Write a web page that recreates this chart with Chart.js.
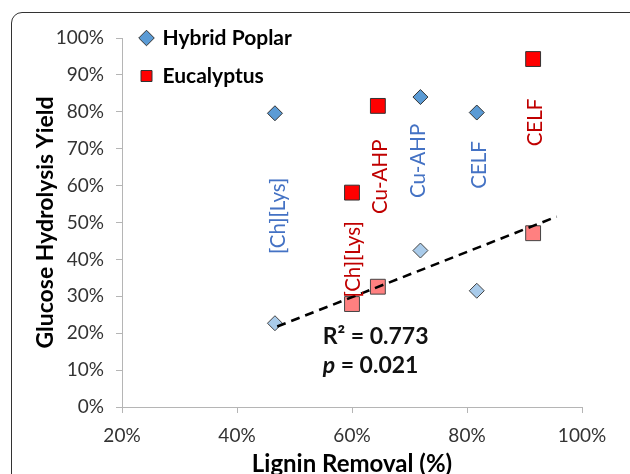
<!DOCTYPE html>
<html>
<head>
<meta charset="utf-8">
<script src="https://cdn.jsdelivr.net/npm/chart.js@4"></script>
<style>
  html, body { margin: 0; padding: 0; background: #ffffff; }
  #wrap { position: relative; width: 630px; height: 474px; overflow: hidden; background: #fff; }
  #frame { position: absolute; left: 11px; top: 12px; width: 660px; height: 520px; border: 1.3px solid #333; border-radius: 11px; box-sizing: border-box; }
  canvas { position: absolute; left: 0; top: 0; }
</style>
</head>
<body>
<div id="wrap">
  <div id="frame"></div>
  <canvas id="c" width="630" height="474"></canvas>
</div>
<script>
// ---- data (values in %) ----
const poplarX = [46.6, 71.9, 81.7];
const poplarY = [79.6, 84.0, 79.8];
const poplarLowY = [22.7, 42.4, 31.5];
const eucX = [60.0, 64.5, 91.5];
const eucY = [58.1, 81.6, 94.3];
const eucLowY = [27.9, 32.6, 47.1];
const trendX = [47.0, 95.6];
const trendY = [21.8, 51.6];
const xTickLabels = ['20%', '40%', '60%', '80%', '100%'];
const yTickLabels = ['0%', '10%', '20%', '30%', '40%', '50%', '60%', '70%', '80%', '90%', '100%'];
const seriesNames = ['Hybrid Poplar', 'Eucalyptus'];
// pretreatment labels (text, x%, y%, series)
const labelText = ['[Ch][Lys]', '[Ch][Lys]', 'Cu-AHP', 'Cu-AHP', 'CELF', 'CELF'];
const labelX = [47.2, 60.3, 65.0, 71.6, 82.1, 91.9];
const labelY = [51.8, 40.0, 62.4, 66.7, 65.6, 77.1];
const labelSeries = [0, 1, 1, 0, 0, 1];
const statLines = ['R\u00B2 = 0.773', 'p = 0.021'];
const statX = [54.9, 54.9];
const statY = [19.2, 11.1];

const FONT = 'Lato, "Open Sans", sans-serif';
const BLUE = '#5B9BD5', LIGHTBLUE = '#A9CBEA', RED = '#FF0000', PINK = '#FF8080';
const TXT_BLUE = '#4472C4', TXT_RED = '#C00000';

function pts(xs, ys) { return xs.map((x, i) => ({ x: x, y: ys[i] })); }

const labelPlugin = {
  id: 'labels',
  afterLayout(chart) {
    const lg = chart.legend;
    if (lg) {
      lg.left = 124; lg.top = 10.5; lg.right = lg.left + lg.width; lg.bottom = 200;
    }
  },
  afterDatasetsDraw(chart) {
    const ctx = chart.ctx, xs = chart.scales.x, ys = chart.scales.y;
    ctx.save();
    ctx.font = '20.5px ' + FONT;
    ctx.textAlign = 'center';
    ctx.textBaseline = 'middle';
    labelText.forEach((t, i) => {
      const px = xs.getPixelForValue(labelX[i]);
      const py = ys.getPixelForValue(labelY[i]);
      ctx.save();
      ctx.translate(px, py);
      ctx.rotate(-Math.PI / 2);
      ctx.fillStyle = labelSeries[i] === 0 ? TXT_BLUE : TXT_RED;
      ctx.fillText(t, 0, 0);
      ctx.restore();
    });
    // statistics text
    ctx.fillStyle = '#111';
    ctx.textAlign = 'left';
    statLines.forEach((t, i) => {
      let px = xs.getPixelForValue(statX[i]);
      const py = ys.getPixelForValue(statY[i]);
      if (t.startsWith('p')) {
        ctx.font = 'italic bold 23px ' + FONT;
        ctx.fillText('p', px, py);
        px += ctx.measureText('p').width;
        ctx.font = 'bold 23px ' + FONT;
        ctx.fillText(t.slice(1), px, py);
      } else {
        ctx.font = 'bold 23px ' + FONT;
        ctx.fillText(t, px, py);
      }
    });
    ctx.restore();
  }
};

new Chart(document.getElementById('c'), {
  type: 'scatter',
  data: {
    datasets: [
      { type: 'line', label: 'trend', data: pts(trendX, trendY), borderColor: '#000', borderWidth: 2.6,
        borderDash: [9, 6], pointRadius: 0, fill: false, order: 0 },
      { label: seriesNames[0], data: pts(poplarX, poplarY), pointStyle: 'rectRot', pointRadius: 7.5,
        backgroundColor: BLUE, borderColor: '#333', borderWidth: 1, order: 1 },
      { label: seriesNames[1], data: pts(eucX, eucY), pointStyle: 'rect', pointRadius: 10.5,
        backgroundColor: RED, borderColor: '#333', borderWidth: 1, order: 2 },
      { label: seriesNames[0] + ' (low)', data: pts(poplarX, poplarLowY), pointStyle: 'rectRot', pointRadius: 7.5,
        backgroundColor: LIGHTBLUE, borderColor: '#444', borderWidth: 1, order: 3 },
      { label: seriesNames[1] + ' (low)', data: pts(eucX, eucLowY), pointStyle: 'rect', pointRadius: 10.5,
        backgroundColor: PINK, borderColor: '#444', borderWidth: 1, order: 4 }
    ]
  },
  options: {
    responsive: false,
    animation: false,
    devicePixelRatio: 1,
    layout: { padding: { left: 0, top: 38, right: 48, bottom: 0 } },
    plugins: {
      tooltip: { enabled: false },
      legend: {
        position: 'chartArea',
        align: 'start',
        labels: {
          filter: (item) => seriesNames.includes(item.text),
          usePointStyle: true,
          boxWidth: 11, boxHeight: 11,
          padding: 17,
          color: '#000',
          font: { family: FONT, size: 21, weight: 'bold' }
        }
      }
    },
    scales: {
      x: {
        type: 'linear', min: 20, max: 100,
        afterFit: (s) => { s.height = 67; },
        ticks: { stepSize: 20, padding: 11, color: '#333', font: { family: FONT, size: 19 },
          callback: (v, i) => xTickLabels[i] },
        grid: { drawOnChartArea: false, drawTicks: true, tickLength: 6, color: '#B5B5B5' },
        border: { color: '#B5B5B5', width: 1 },
        title: { display: true, text: 'Lignin Removal (%)', color: '#000',
          font: { family: FONT, size: 24, weight: 'bold', lineHeight: 1 }, padding: { top: 0, bottom: -2 } }
      },
      y: {
        type: 'linear', min: 0, max: 100,
        afterFit: (s) => { s.width = 122; },
        ticks: { stepSize: 10, padding: 12, color: '#333', font: { family: FONT, size: 19 },
          callback: (v, i) => yTickLabels[i] },
        grid: { drawOnChartArea: false, drawTicks: true, tickLength: 6, color: '#B5B5B5' },
        border: { color: '#B5B5B5', width: 1 },
        title: { display: true, text: 'Glucose Hydrolysis Yield', color: '#000',
          font: { family: FONT, size: 23, weight: 'bold', lineHeight: 1 }, padding: { top: 34, bottom: 0 } }
      }
    }
  },
  plugins: [labelPlugin]
});
</script>
</body>
</html>
